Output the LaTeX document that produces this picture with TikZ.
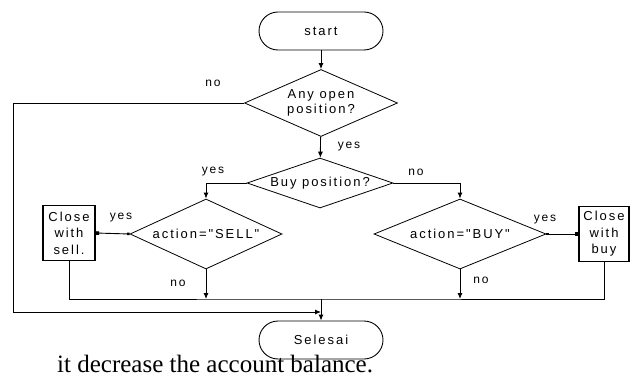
\documentclass[tikz,border=0pt]{standalone}
\usepackage{fontspec}
\setmainfont{Liberation Serif}
\newfontfamily\flowfont[LetterSpace=15]{Liberation Sans}
\usetikzlibrary{arrows.meta}
\usetikzlibrary{shapes.geometric}

\begin{document}
\begin{tikzpicture}[x=1pt,y=-1pt,
	term/.style={draw,line width=0.9pt,rounded corners=19pt,minimum width=124pt,minimum height=38pt,font=\flowfont\fontsize{13}{15}\selectfont},
	decide/.style={draw,diamond,inner sep=0pt,line width=0.8pt,align=center,font=\flowfont\fontsize{13}{15}\selectfont},
	act/.style={draw,rectangle,line width=1.1pt,minimum width=52pt,minimum height=55pt,inner sep=1pt,align=center,font=\flowfont\fontsize{13}{16.5}\selectfont},
	flow/.style={line width=0.9pt,-{Latex[length=6pt,width=5pt]}},
	link/.style={line width=0.9pt,{Square[length=2.5pt,width=2.5pt]}-{Square[length=3.5pt,width=3.5pt]}},
	lbl/.style={inner sep=0pt,font=\flowfont\fontsize{12}{14}\selectfont}]
	\useasboundingbox (0,0) rectangle (636,379);

	\node[term] (start) at (321,31) {start};
	\node[decide,aspect=2,minimum width=153pt,minimum height=67pt] (open) at (321,103) {Any open\\position?};
	\node[decide,aspect=3,minimum width=146pt,minimum height=50pt] (buypos) at (320,183) {Buy position?};
	\node[decide,aspect=2.5,minimum width=152pt,minimum height=70pt] (sell) at (206,234) {action="SELL"};
	\node[decide,aspect=2.5,minimum width=172pt,minimum height=70pt] (buy) at (460,234) {action="BUY"};
	\node[act] (csell) at (69,233) {Close\\with\\sell.};
	\node[act,minimum width=50pt] (cbuy) at (604,234) {Close\\with\\buy};
	\node[term] (end) at (321,340) {Selesai};

	\coordinate (m) at (321,299);
	\coordinate (edge) at (13,312);
	\coordinate (in) at (321,312);

	\draw[flow] (start) -- (open);
	\draw[flow] (open.west) -| (edge) -- (in);
	\draw[flow] (open) -- (buypos);
	\draw[flow] (buypos.west) -| (sell.north);
	\draw[flow] (buypos.east) -| (buy.north);
	\draw[link] (sell.west) -- (csell.east);
	\draw[link] (buy.east) -- (cbuy.west);
	\draw[flow] (sell.south) -- (sell.south |- m);
	\draw[flow] (buy.south) -- (buy.south |- m);
	\draw[line width=0.9pt] (csell.south) |- (m) -| (cbuy.south);
	\draw[flow] (m) -- (end);

	\node[lbl] (no1) at (213,83) {no};
	\node[lbl] (yes1) at (349,147) {yes};
	\node[lbl] (yes2) at (213,172) {yes};
	\node[lbl] (no2) at (416,172) {no};
	\node[lbl] (yes3) at (121,218) {yes};
	\node[lbl] (no3) at (178,283) {no};
	\node[lbl] (yes4) at (545,220) {yes};
	\node[lbl] (no4) at (481,280) {no};

	\node[anchor=base west,inner sep=0pt,font=\fontsize{25}{29}\selectfont] (note) at (57,372) {it decrease the account balance.};
\end{tikzpicture}
\end{document}
